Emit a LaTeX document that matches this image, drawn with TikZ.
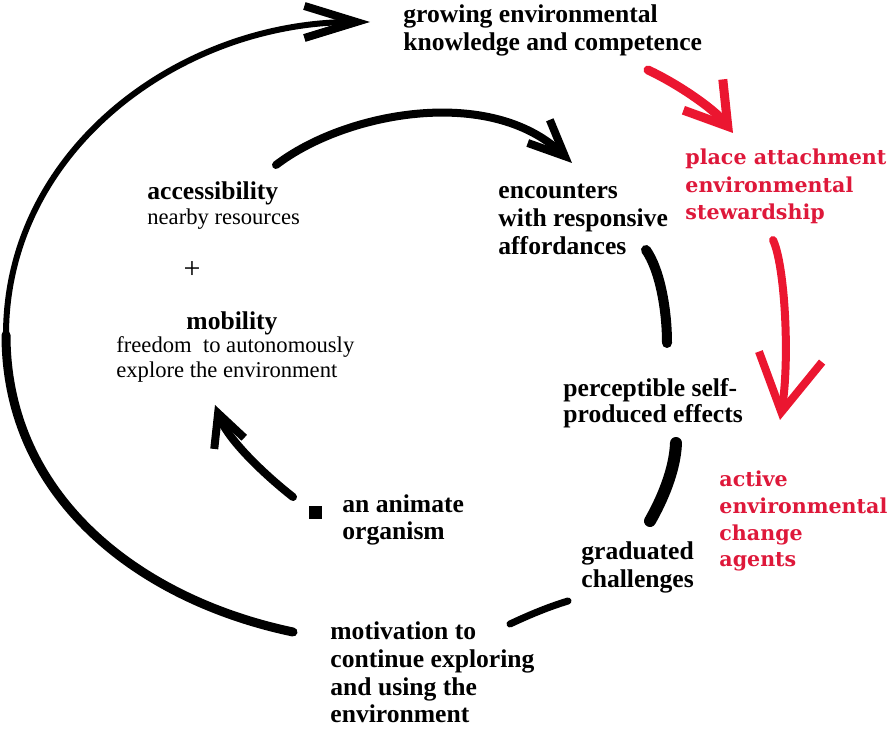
\documentclass[tikz,border=0pt]{standalone}
\usepackage{fontspec}
\setmainfont{Liberation Serif}
\newfontfamily\redfont{DejaVu Serif}
\usetikzlibrary{arrows.meta}
\definecolor{redarrow}{RGB}{235,22,48}
\definecolor{redtext}{RGB}{222,24,58}
\begin{document}
\begin{tikzpicture}[x=0.5pt,y=-0.5pt,
  lbl/.style={inner sep=0pt, anchor=base west, align=left, font=\fontsize{12.8}{#1}\selectfont\bfseries},
  lbl/.default=14pt,
  sub/.style={inner sep=0pt, anchor=base west, align=left, font=\fontsize{11.3}{12.5}\selectfont},
  redlbl/.style={inner sep=0pt, anchor=base west, align=left, text=redtext, font=\redfont\bfseries\fontsize{10.3}{#1}\selectfont},
  redlbl/.default=13.6pt,
  ink/.style={line cap=round, line width=#1},
  redink/.style={draw=redarrow, line cap=round, line width=#1}]
\useasboundingbox (0,0) rectangle (895,731);

% texts (multi-line nodes are anchored at the baseline of their last line)
\node[lbl=14pt] (grow) at (403,51) {growing environmental\\knowledge and competence};
\node[lbl] (acc) at (147,200) {accessibility};
\node[sub] (near) at (147,225) {nearby resources};
\node[sub, anchor=center, font=\fontsize{15}{15}\selectfont] (plus) at (192,270) {+};
\node[lbl, anchor=base] (mob) at (232,330) {mobility};
\node[sub] (free) at (116,378) {freedom\ \ to autonomously\\explore the environment};
\node[lbl=13.5pt] (anim) at (342,540) {an animate\\organism};
\node[lbl=13.85pt] (motiv) at (330,723) {motivation to\\continue exploring\\and using the\\environment};
\node[lbl=14pt] (grad) at (581,588) {graduated\\challenges};
\node[lbl=14.2pt] (enc) at (498,255) {encounters\\with responsive\\affordances};
\node[lbl=13pt] (perc) at (563,423) {perceptible self-\\produced effects};
\node[redlbl=13.75pt] (place) at (685,220) {place attachment\\environmental\\stewardship};
\node[redlbl=13.35pt] (active) at (719,567) {active\\environmental\\change\\agents};
\node[fill=black, minimum size=6.5pt, inner sep=0pt] (org) at (315,513) {};

% coordinates
\coordinate (o1) at (293,632);
\coordinate (o2) at (6,335);
\coordinate (o3) at (370,22);
\coordinate (i1) at (276,165);
\coordinate (i2) at (572,163);
\coordinate (b1) at (293,497);
\coordinate (b2) at (215,405);
\coordinate (r1) at (648,70);
\coordinate (r2) at (733,133);
\coordinate (r3) at (773,240);
\coordinate (r4) at (780,420);
\coordinate (s1) at (646,250);
\coordinate (s2) at (667,343);
\coordinate (s3) at (676,443);
\coordinate (s4) at (650,521);
\coordinate (s5) at (568,601);
\coordinate (s6) at (510,624);

% outer loop
\draw[ink=4.5pt] (o1) .. controls (140,600) and (6,498) .. (o2);
\draw[ink=3pt, -{Straight Barb[length=26pt,width=16pt,line width=4pt]}] (o2) .. controls (6,150) and (180,22) .. (o3);

% inner loop
\draw[ink=4pt, -{Straight Barb[length=18pt,width=16pt]}] (i1) .. controls (345,112) and (490,85) .. (i2);
\draw[ink=5pt] (s1) .. controls (660,270) and (667,310) .. (s2);
\draw[ink=6pt] (s3) .. controls (675,470) and (662,500) .. (s4);
\draw[ink=3.5pt] (s5) .. controls (545,608) and (525,617) .. (s6);
\draw[ink=4pt, -{Straight Barb[length=16pt,width=16pt]}] (b1) .. controls (265,475) and (228,440) .. (b2);

% red arrows
\draw[redink=4.5pt, -{Straight Barb[length=20pt,width=25pt]}] (r1) .. controls (680,85) and (715,110) .. (r2);
\draw[redink=4pt, -{Straight Barb[length=28pt,width=32pt]}] (r3) .. controls (785,265) and (790,360) .. (r4);
\end{tikzpicture}
\end{document}
